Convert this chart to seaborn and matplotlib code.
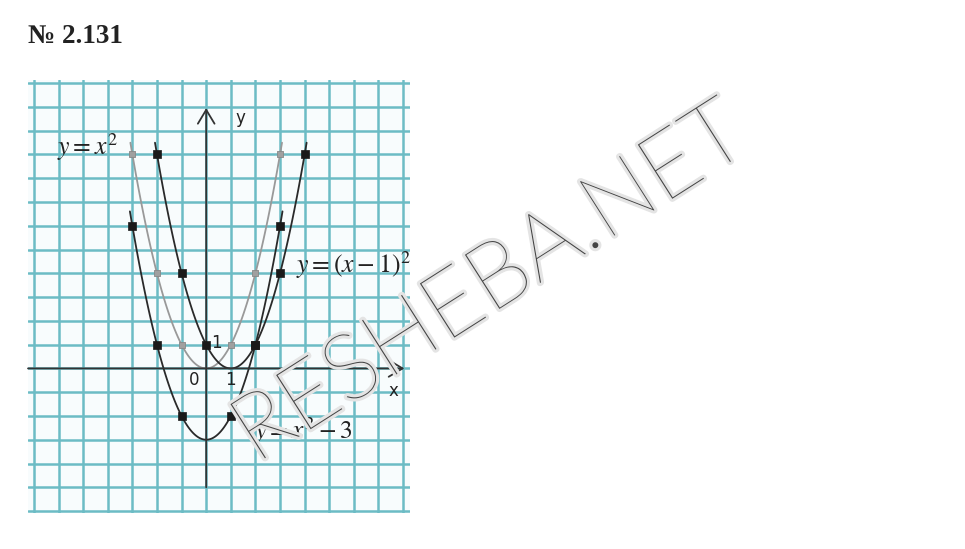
import matplotlib
matplotlib.use("Agg")
import matplotlib.pyplot as plt
import matplotlib.patheffects as pe
import seaborn as sns

# y = x^2 (gray curve)
sq_x = [-3.08, -3, -2, -1, 0, 1, 2, 3, 3.08]
sq_y = [9.5, 9, 4, 1, 0, 1, 4, 9, 9.5]
sq_mark_x = [-3, -2, -1, 1, 2, 3]
sq_mark_y = [9, 4, 1, 1, 4, 9]

# y = (x - 1)^2
sh_x = [-2.08, -2, -1, 0, 1, 2, 3, 4, 4.08]
sh_y = [9.5, 9, 4, 1, 0, 1, 4, 9, 9.5]
sh_mark_x = [-2, -1, 0, 2, 3, 4]
sh_mark_y = [9, 4, 1, 1, 4, 9]

# y = x^2 - 3
dn_x = [-3.1, -3, -2, -1, 0, 1, 2, 3, 3.1]
dn_y = [6.6, 6, 1, -2, -3, -2, 1, 6, 6.6]
dn_mark_x = [-3, -2, -1, 1, 2, 3]
dn_mark_y = [6, 1, -2, -2, 1, 6]

grid_x = list(range(-7, 9))
grid_y = list(range(-6, 13))

sns.set_style("white")
plt.rcParams["mathtext.fontset"] = "stix"

fig = plt.figure(figsize=(9.65, 5.49), dpi=100)
ax = fig.add_axes([28 / 965, 1 - 513 / 549, 382 / 965, 433 / 549])
ax.set_facecolor("#f8fcfd")

ax.set_xticks(grid_x)
ax.set_yticks(grid_y)
ax.tick_params(length=0, labelbottom=False, labelleft=False)
ax.grid(True, color="#6cbcc5", lw=1.8)
for s in ax.spines.values():
    s.set_visible(False)

# axes with arrows
axis_kw = dict(arrowstyle="->,head_length=0.5,head_width=0.3", lw=1.3, color="#333333",
               mutation_scale=20, shrinkA=0, shrinkB=0)
ax.annotate("", xy=(8.05, 0), xytext=(-7.24, 0), arrowprops=axis_kw)
ax.annotate("", xy=(0, 10.95), xytext=(0, -5.0), arrowprops=axis_kw)

# curves
sns.regplot(x=sq_x, y=sq_y, order=2, ci=None, scatter=False, truncate=True,
            line_kws=dict(color="#999999", lw=1.3), ax=ax)
sns.scatterplot(x=sq_mark_x, y=sq_mark_y, marker="s", s=24, color="#a0a0a0",
                edgecolor="#888888", linewidth=0.6, ax=ax, zorder=3)

for cx, cy, mx, my in [(sh_x, sh_y, sh_mark_x, sh_mark_y),
                       (dn_x, dn_y, dn_mark_x, dn_mark_y)]:
    sns.regplot(x=cx, y=cy, order=2, ci=None, scatter=False, truncate=True,
                line_kws=dict(color="#2a2a2a", lw=1.3), ax=ax)
    sns.scatterplot(x=mx, y=my, marker="s", s=30, color="#1a1a1a",
                    edgecolor="#1a1a1a", linewidth=0.5, ax=ax, zorder=4)

ax.set_xlim(-7.24, 8.28)
ax.set_ylim(-6.08, 12.13)

lbl = dict(fontsize=12, color="#222222", family="DejaVu Sans")
ax.text(1.4, 10.55, "y", ha="center", va="center", **lbl)
ax.text(7.6, -0.95, "x", ha="center", va="center", **lbl)
ax.text(-0.5, -0.5, "0", ha="center", va="center", **lbl)
ax.text(1.0, -0.5, "1", ha="center", va="center", **lbl)
ax.text(0.4, 1.05, "1", ha="center", va="center", **lbl)

eq = dict(fontsize=18.5, color="#222222", va="center", ha="left")
ax.text(-6.05, 9.3, r"$y = x^2$", **eq)
ax.text(3.65, 4.35, r"$y = (x - 1)^2$", **eq)
ax.text(1.95, -2.65, r"$y = x^2 - 3$", **eq)

fig.text(28 / 965, 1 - 43 / 549, "№ 2.131", fontsize=19.5, fontweight="bold",
         family=["Liberation Serif", "DejaVu Serif"], color="#222222", va="baseline")

# watermark
fig.text(256 / 965, 1 - 464 / 549, "RESHEBA.NET", fontsize=66, family="Lato",
         fontweight=100, color="#444444", rotation=32.5, ha="left", va="baseline",
         rotation_mode="anchor",
         path_effects=[pe.withStroke(linewidth=4.5, foreground="#e4e4e4")])

fig.savefig("out.png", dpi=100)
